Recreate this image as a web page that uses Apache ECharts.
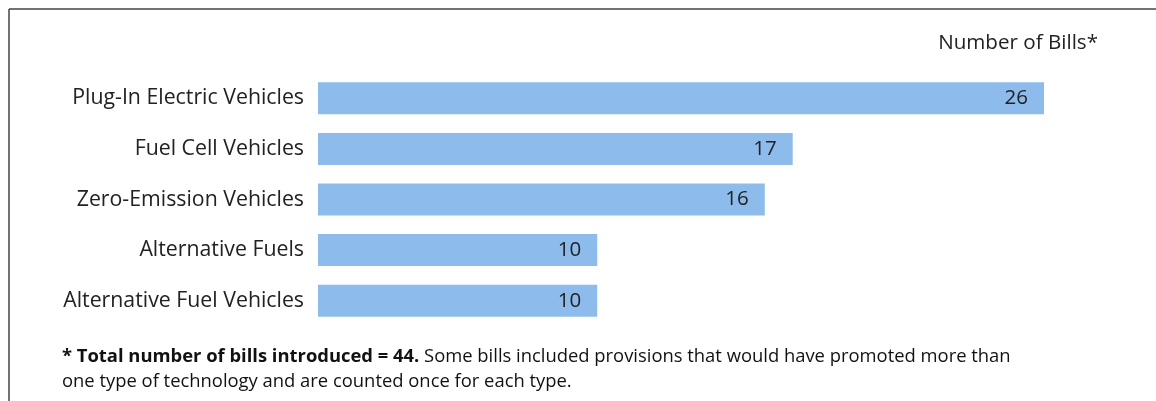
<!DOCTYPE html>
<html>
<head>
<meta charset="utf-8">
<script src="https://cdn.jsdelivr.net/npm/echarts@6/dist/echarts.min.js"></script>
<style>
  html, body { margin: 0; padding: 0; background: #fff; }
  #chart { width: 1156px; height: 401px; }
</style>
</head>
<body>
<div id="chart"></div>
<script>
var categories = ['Plug-In Electric Vehicles', 'Fuel Cell Vehicles', 'Zero-Emission Vehicles', 'Alternative Fuels', 'Alternative Fuel Vehicles'];
var bills = [26, 17, 16, 10, 10];
var axisTitle = 'Number of Bills*';
var noteBold = '* Total number of bills introduced = 44.';
var noteRest = ' Some bills included provisions that would have promoted more than';
var noteLine2 = 'one type of technology and are counted once for each type.';

var chart = echarts.init(document.getElementById('chart'));

var font = 'Open Sans';

var option = {
    animation: false,
    grid: {
        left: 318,
        right: 112,
        top: 73,
        bottom: 75,
        containLabel: false
    },
    xAxis: {
        type: 'value',
        min: 0,
        max: 26,
        show: false
    },
    yAxis: {
        type: 'category',
        inverse: true,
        data: categories,
        axisLine: { show: false },
        axisTick: { show: false },
        axisLabel: {
            margin: 14,
            fontFamily: font,
            fontSize: 21.3,
            color: '#222'
        }
    },
    series: [
        {
            type: 'bar',
            data: bills,
            barWidth: 32,
            itemStyle: { color: '#8DBBEC' },
            label: {
                show: true,
                position: 'insideRight',
                distance: 16,
                fontFamily: font,
                fontSize: 20.5,
                color: '#222'
            }
        }
    ],
    graphic: [
        { type: 'line', shape: { x1: 9, y1: 9, x2: 1156, y2: 9 }, style: { stroke: '#444', lineWidth: 1.5 } },
        { type: 'line', shape: { x1: 9, y1: 9, x2: 9, y2: 401 }, style: { stroke: '#444', lineWidth: 1.5 } },
        {
            type: 'text', right: 58, top: 33,
            style: { text: axisTitle, font: '20.6px "' + font + '"', fill: '#222' }
        },
        {
            type: 'text', left: 62, top: 344,
            style: {
                text: '{b|' + noteBold + '}{r|' + noteRest + '}\n{r|' + noteLine2 + '}',
                lineHeight: 25,
                rich: {
                    b: { font: 'bold 18.4px "' + font + '"', fill: '#111', lineHeight: 25 },
                    r: { font: '18.4px "' + font + '"', fill: '#111', lineHeight: 25 }
                }
            }
        }
    ]
};

chart.setOption(option);
</script>
</body>
</html>
